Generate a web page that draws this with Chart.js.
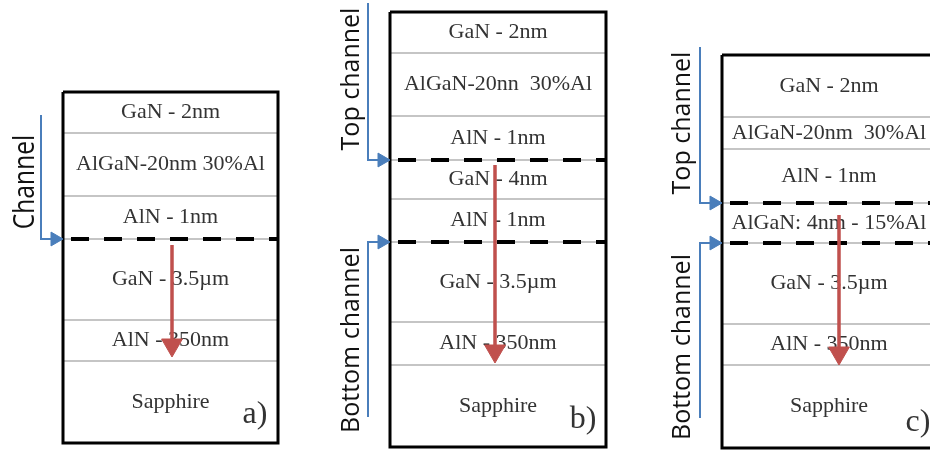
<!DOCTYPE html>
<html>
<head>
<meta charset="utf-8">
<script src="https://cdn.jsdelivr.net/npm/chart.js@4.4.0/dist/chart.umd.min.js"></script>
<style>
  html, body { margin: 0; padding: 0; background: #fff; }
  #wrap { width: 930px; height: 450px; }
</style>
</head>
<body>
<div id="wrap"><canvas id="stackChart" width="930" height="450"></canvas></div>
<script>
// layer stacks, top to bottom, and the depth of each boundary (diagram units)
const layersA = ['GaN - 2nm', 'AlGaN-20nm 30%Al', 'AlN - 1nm', 'GaN - 3.5µm', 'AlN - 350nm', 'Sapphire'];
const edgesA = [92, 133, 196, 239, 320, 361, 443];
const channelsA = [239];

const layersB = ['GaN - 2nm', 'AlGaN-20nn  30%Al', 'AlN - 1nm', 'GaN - 4nm', 'AlN - 1nm', 'GaN - 3.5µm', 'AlN - 350nm', 'Sapphire'];
const edgesB = [12, 53, 116, 160, 199, 242, 322, 365, 447];
const channelsB = [160, 242];

const layersC = ['GaN - 2nm', 'AlGaN-20nm  30%Al', 'AlN - 1nm', 'AlGaN: 4nm - 15%Al', 'GaN - 3.5µm', 'AlN - 350nm', 'Sapphire'];
const edgesC = [55, 117, 149, 203, 243, 324, 365, 448];
const channelsC = [203, 243];

const panelTags = ['a)', 'b)', 'c)'];
const channelNames = [['Channel'], ['Top channel', 'Bottom channel'], ['Top channel', 'Bottom channel']];

// layout of the three panels on the page
const boxX = [[63, 278], [390, 606], [722, 936]];
const guideX = [41, 368, 700];
const guideStart = [[115], [3, 417], [47, 418]];
const guideLabelX = [26, 352, 683];
const guideLabelY = [[182], [79, 340], [123, 347]];
const guideFont = [29, 25, 25];
const guideSquash = [0.85, 1, 1];
const probeX = [172, 495, 839];
const probeSpan = [[245, 345], [165, 351], [215, 353]];
const tagPos = [[255, 415], [583, 420], [918, 423]];

const layers = [layersA, layersB, layersC];
const edges = [edgesA, edgesB, edgesC];
const channels = [channelsA, channelsB, channelsC];

const BLUE = '#4a7ebb';
const RED = '#c0504d';

function seg(points, color, width, order, extra) {
    return Object.assign({
        data: points,
        showLine: true,
        borderColor: color,
        borderWidth: width,
        pointRadius: 0,
        fill: false,
        tension: 0,
        order: order
    }, extra || {});
}

function arrow(points, color, width, order, size, rot) {
    const last = points.length - 1;
    return seg(points, color, width, order, {
        borderJoinStyle: 'miter',
        pointStyle: 'triangle',
        pointRotation: rot,
        pointRadius: ctx => ctx.dataIndex === last ? size : 0,
        pointBackgroundColor: color,
        pointBorderColor: color,
        pointBorderWidth: 1
    });
}

const datasets = [];
for (let p = 0; p < 3; p++) {
    const x0 = boxX[p][0], x1 = boxX[p][1];
    const e = edges[p];
    // thin layer boundaries
    for (let i = 1; i < e.length - 1; i++) {
        datasets.push(seg([{x: x0, y: e[i]}, {x: x1, y: e[i]}], '#8c8c8c', 1.2, 6));
    }
    // box outline
    datasets.push(seg([{x: x0, y: e[0]}, {x: x1, y: e[0]}, {x: x1, y: e[e.length - 1]},
                       {x: x0, y: e[e.length - 1]}, {x: x0, y: e[0]}], '#000', 3, 5,
                      {borderJoinStyle: 'miter'}));
    // channel (2DEG) positions
    channels[p].forEach(c => {
        datasets.push(seg([{x: x0 + 8, y: c}, {x: x1, y: c}], '#000', 4, 4,
                          {borderDash: [18, 15], borderCapStyle: 'butt'}));
    });
    // red probe arrow
    datasets.push(arrow([{x: probeX[p], y: probeSpan[p][0]}, {x: probeX[p], y: probeSpan[p][1]}],
                        RED, 3.5, 2, 12, 180));
    // blue channel guides
    channels[p].forEach((c, k) => {
        datasets.push(arrow([{x: guideX[p], y: guideStart[p][k]}, {x: guideX[p], y: c},
                             {x: x0 - 8, y: c}], BLUE, 2, 1, 8, 90));
    });
}

const textPlugin = {
    id: 'stackText',
    beforeDraw(chart) {
        const ctx = chart.ctx;
        ctx.save();
        ctx.fillStyle = '#fff';
        ctx.fillRect(0, 0, chart.width, chart.height);
        ctx.restore();
    },
    beforeDatasetsDraw(chart) {
        const ctx = chart.ctx, sx = chart.scales.x, sy = chart.scales.y;
        ctx.save();
        ctx.fillStyle = '#333';
        ctx.font = '22px "Liberation Serif"';
        ctx.textAlign = 'center';
        ctx.textBaseline = 'middle';
        for (let p = 0; p < 3; p++) {
            const cx = sx.getPixelForValue((boxX[p][0] + boxX[p][1]) / 2);
            layers[p].forEach((name, i) => {
                const cy = sy.getPixelForValue((edges[p][i] + edges[p][i + 1]) / 2);
                ctx.fillText(name, cx, cy);
            });
        }
        ctx.restore();
    },
    afterDatasetsDraw(chart) {
        const ctx = chart.ctx, sx = chart.scales.x, sy = chart.scales.y;
        ctx.save();
        ctx.textAlign = 'center';
        ctx.textBaseline = 'middle';
        for (let p = 0; p < 3; p++) {
            ctx.fillStyle = '#333';
            ctx.font = '32px "Liberation Serif"';
            ctx.fillText(panelTags[p], sx.getPixelForValue(tagPos[p][0]), sy.getPixelForValue(tagPos[p][1]));
            ctx.fillStyle = '#111';
            ctx.font = guideFont[p] + 'px "Open Sans"';
            channelNames[p].forEach((name, k) => {
                ctx.save();
                ctx.translate(sx.getPixelForValue(guideLabelX[p]), sy.getPixelForValue(guideLabelY[p][k]));
                ctx.rotate(-Math.PI / 2);
                ctx.scale(guideSquash[p], 1);
                ctx.fillText(name, 0, 0);
                ctx.restore();
            });
        }
        ctx.restore();
    }
};

new Chart(document.getElementById('stackChart'), {
    type: 'scatter',
    data: { datasets: datasets },
    options: {
        responsive: false,
        animation: false,
        events: [],
        layout: { padding: 0, autoPadding: false },
        plugins: { legend: { display: false }, tooltip: { enabled: false } },
        scales: {
            x: { type: 'linear', min: 0, max: 930, display: false },
            y: { type: 'linear', min: 0, max: 450, reverse: true, display: false }
        }
    },
    plugins: [textPlugin]
});
</script>
</body>
</html>
